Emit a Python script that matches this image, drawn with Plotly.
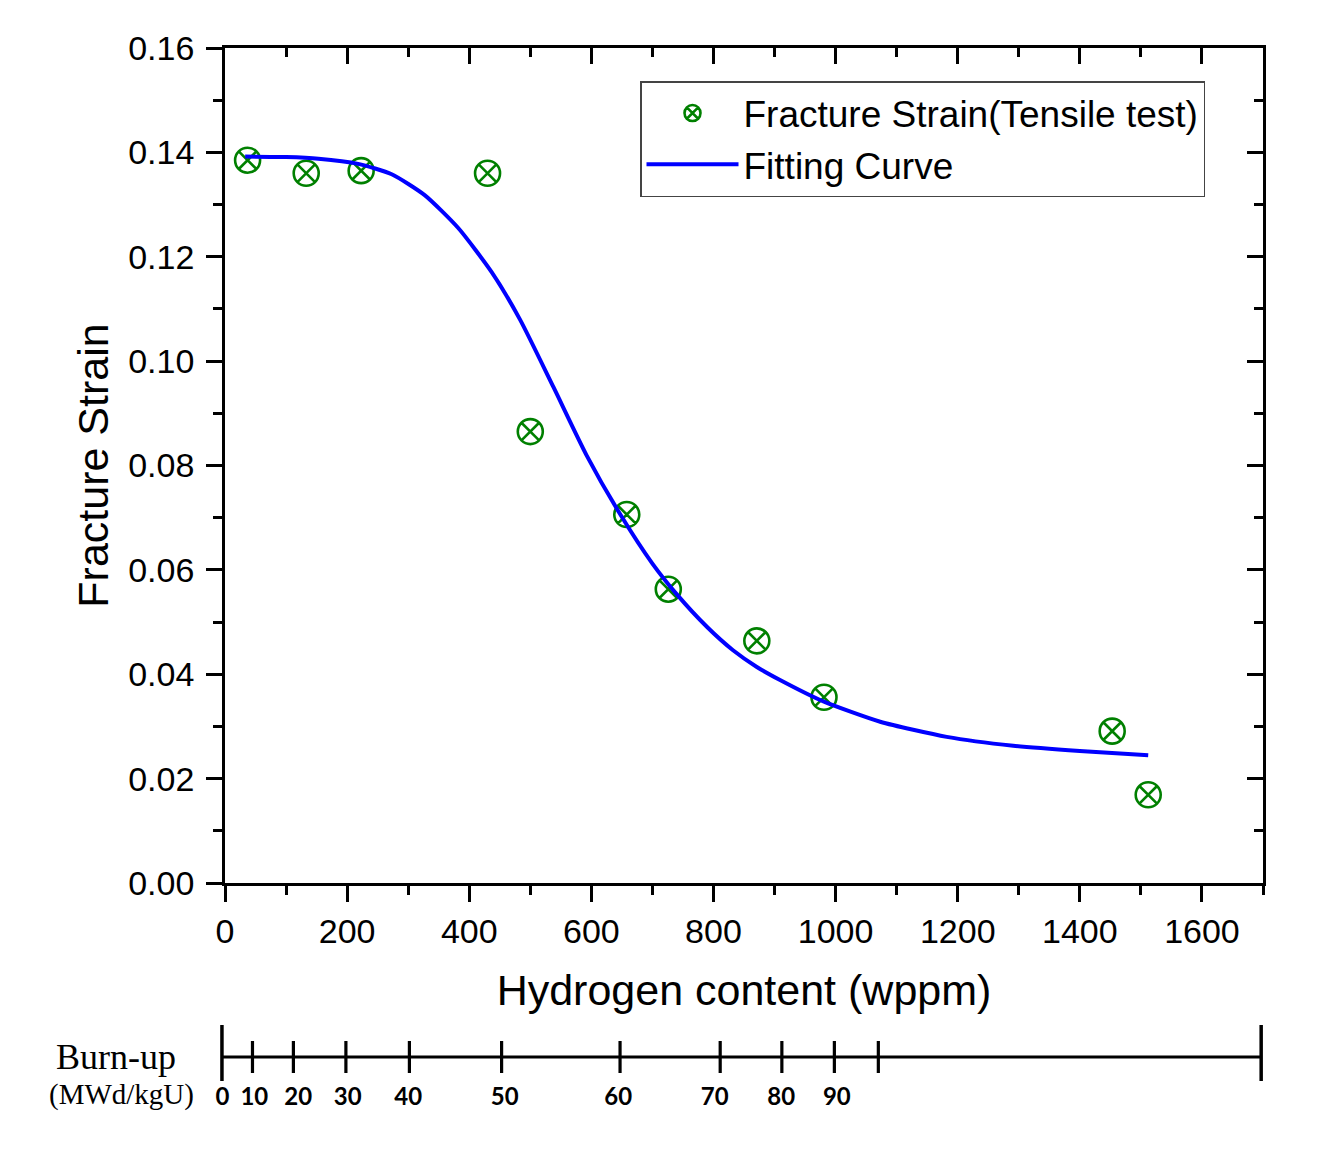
import plotly.graph_objects as go

# ---------------- data ----------------
hydrogen = [37, 133, 223, 430, 500, 658, 726, 871, 981, 1453, 1512]
fracture_strain = [0.1385, 0.1360, 0.1365, 0.1360, 0.0865, 0.0706, 0.0563,
                   0.0464, 0.0356, 0.0291, 0.0169]

fit_x = [33, 100, 153, 218, 273, 327, 382, 437, 483, 538, 592, 647, 700, 740,
         790, 832, 871, 909, 980, 1073, 1182, 1291, 1400, 1512]
fit_y = [0.1392, 0.1391, 0.1388, 0.1378, 0.1358, 0.1318, 0.1255, 0.1170,
         0.1080, 0.0950, 0.0820, 0.0707, 0.0612, 0.0553, 0.0490, 0.0446,
         0.0414, 0.0389, 0.0348, 0.0309, 0.0280, 0.0263, 0.0253, 0.0245]

x_ticks = [0, 200, 400, 600, 800, 1000, 1200, 1400, 1600]
y_ticks = [0.00, 0.02, 0.04, 0.06, 0.08, 0.10, 0.12, 0.14, 0.16]
y_tick_labels = ["0.00", "0.02", "0.04", "0.06", "0.08", "0.10", "0.12", "0.14", "0.16"]

# burn-up scale: labels and their position on the hydrogen axis (wppm)
burnup_labels = ["0", "10", "20", "30", "40", "50", "60", "70", "80", "90"]
burnup_h = [-5, 45, 112, 198, 302, 453, 647, 811, 912, 998]
burnup_extra_h = [1070]          # unlabeled tick
burnup_end_h = [-5, 1697]        # tall end ticks
burnup_label_h = [-4, 48, 120, 201, 300, 458, 644, 802, 911, 1002]

# ---------------- layout geometry ----------------
OFF = 8                       # page body margin of the html page
W, H = 1318 - OFF, 1156 - OFF
ML, MR, MT, MB = 92, 40, 40, 20
PW, PH = W - ML - MR, H - MT - MB
X0_PX, X1_PX = 225, 1263      # reference page pixels
Y_TOP_PX, Y_BOT_PX = 48, 883
XRANGE = [0, 1700]
S = (X1_PX - X0_PX) / (XRANGE[1] - XRANGE[0])

def px_to_paper_x(px):
    return (px - OFF - ML) / PW

def px_to_paper_y(py):
    return (H - MB - (py - OFF)) / PH

main_xdom = [px_to_paper_x(X0_PX), px_to_paper_x(X1_PX)]
main_ydom = [px_to_paper_y(Y_BOT_PX), px_to_paper_y(Y_TOP_PX)]

BU_LINE_PX = 1057
BU_TOP_PX = 960
BU_BOT_PX = H - MB + OFF
bu_xdom_px = [200, 1275]
bu_xdom = [px_to_paper_x(bu_xdom_px[0]), px_to_paper_x(bu_xdom_px[1])]
bu_xrange = [(bu_xdom_px[0] - X0_PX) / S, (bu_xdom_px[1] - X0_PX) / S]
bu_ydom = [0, px_to_paper_y(BU_TOP_PX)]
bu_yrange = [-(BU_BOT_PX - BU_LINE_PX), BU_LINE_PX - BU_TOP_PX]

GREEN = "#008000"
BLUE = "#0000FF"
FONT = "Liberation Sans, Arial, sans-serif"

fig = go.Figure()

fig.add_trace(go.Scatter(
    x=hydrogen, y=fracture_strain, mode="markers",
    name="Fracture Strain(Tensile test)",
    marker=dict(symbol="circle-x-open", size=25, color=GREEN,
                line=dict(width=2.6, color=GREEN)),
    xaxis="x", yaxis="y",
))
fig.add_trace(go.Scatter(
    x=fit_x, y=fit_y, mode="lines", name="Fitting Curve",
    line=dict(color=BLUE, width=4, shape="spline", smoothing=0.6),
    xaxis="x", yaxis="y",
))

# dummy traces so the mirrored (inward tick) axes are drawn
fig.add_trace(go.Scatter(x=[None], y=[None], xaxis="x3", yaxis="y",
                         showlegend=False, hoverinfo="skip"))
fig.add_trace(go.Scatter(x=[None], y=[None], xaxis="x", yaxis="y3",
                         showlegend=False, hoverinfo="skip"))

# ---------------- burn-up scale ----------------
SMALL, TALL_UP, TALL_DN = 16, 32, 24
all_h = burnup_end_h + burnup_h + burnup_extra_h
fig.add_trace(go.Scatter(
    x=[min(all_h), max(all_h)], y=[0, 0], mode="lines",
    line=dict(color="black", width=3.2), showlegend=False,
    xaxis="x2", yaxis="y2", hoverinfo="skip"))
tx, ty = [], []
for h in burnup_h[1:] + burnup_extra_h:
    tx += [h, h, None]
    ty += [-SMALL, SMALL, None]
fig.add_trace(go.Scatter(
    x=tx, y=ty, mode="lines", line=dict(color="black", width=3.2),
    showlegend=False, xaxis="x2", yaxis="y2", hoverinfo="skip"))
ex, ey = [], []
for h in burnup_end_h:
    ex += [h, h, None]
    ey += [-TALL_DN, TALL_UP, None]
fig.add_trace(go.Scatter(
    x=ex, y=ey, mode="lines", line=dict(color="black", width=3.5),
    showlegend=False, xaxis="x2", yaxis="y2", hoverinfo="skip"))
fig.add_trace(go.Scatter(
    x=burnup_label_h, y=[-42] * len(burnup_label_h), mode="text",
    text=burnup_labels,
    textfont=dict(family="Lato, Open Sans, sans-serif", size=24,
                  color="black", weight="bold"),
    showlegend=False, xaxis="x2", yaxis="y2", hoverinfo="skip",
    cliponaxis=False))

axis_common = dict(showgrid=False, zeroline=False, showline=True,
                   linecolor="black", linewidth=2.6, automargin=False)

fig.update_layout(
    width=W, height=H,
    margin=dict(l=ML, r=MR, t=MT, b=MB),
    paper_bgcolor="white", plot_bgcolor="white",
    font=dict(family=FONT, color="black"),
    xaxis=dict(
        **axis_common, domain=main_xdom, range=XRANGE, anchor="y",
        tickvals=x_ticks, ticks="outside", ticklen=16, tickwidth=2.6,
        tickcolor="black", tickfont=dict(size=34, family=FONT),
        minor=dict(dtick=100, tick0=0, ticks="outside", ticklen=9,
                   tickwidth=2.6, tickcolor="black"),
        title=dict(text="Hydrogen content (wppm)",
                   font=dict(size=43, family=FONT), standoff=27),
    ),
    yaxis=dict(
        **axis_common, domain=main_ydom, range=[0, 0.16], anchor="x",
        tickvals=y_ticks, ticktext=y_tick_labels, ticks="outside",
        ticklen=16, tickwidth=2.6, tickcolor="black",
        tickfont=dict(size=34, family=FONT), ticklabelstandoff=5,
        minor=dict(dtick=0.01, tick0=0, ticks="outside", ticklen=9,
                   tickwidth=2.6, tickcolor="black"),
        title=dict(text="Fracture Strain",
                   font=dict(size=43, family=FONT), standoff=7),
    ),
    xaxis3=dict(
        **axis_common, overlaying="x", side="top", anchor="y",
        range=XRANGE, tickvals=x_ticks, showticklabels=False,
        ticks="inside", ticklen=16, tickwidth=2.6, tickcolor="black",
        minor=dict(dtick=100, tick0=0, ticks="inside", ticklen=9,
                   tickwidth=2.6, tickcolor="black"),
    ),
    yaxis3=dict(
        **axis_common, overlaying="y", side="right", anchor="x",
        range=[0, 0.16], tickvals=y_ticks, showticklabels=False,
        ticks="inside", ticklen=16, tickwidth=2.6, tickcolor="black",
        minor=dict(dtick=0.01, tick0=0, ticks="inside", ticklen=9,
                   tickwidth=2.6, tickcolor="black"),
    ),
    xaxis2=dict(domain=bu_xdom, range=bu_xrange, anchor="y2",
                visible=False, showgrid=False, zeroline=False),
    yaxis2=dict(domain=bu_ydom, range=bu_yrange, anchor="x2",
                visible=False, showgrid=False, zeroline=False),
    legend=dict(
        x=px_to_paper_x(640), y=px_to_paper_y(81),
        xanchor="left", yanchor="top",
        bordercolor="#444444", borderwidth=1.5, bgcolor="white",
        font=dict(size=37, family=FONT, color="black"),
        tracegroupgap=0, itemwidth=92,
    ),
    showlegend=True,
    annotations=[
        dict(text="Burn-up", xref="paper", yref="paper",
             x=px_to_paper_x(116), y=px_to_paper_y(1057),
             xanchor="center", yanchor="middle", showarrow=False,
             font=dict(family="Liberation Serif, Times New Roman, serif",
                       size=36, color="black")),
        dict(text="(MWd/kgU)", xref="paper", yref="paper",
             x=px_to_paper_x(121), y=px_to_paper_y(1094),
             xanchor="center", yanchor="middle", showarrow=False,
             font=dict(family="Liberation Serif, Times New Roman, serif",
                       size=29, color="black")),
    ],
)

fig.write_html("out.html")
